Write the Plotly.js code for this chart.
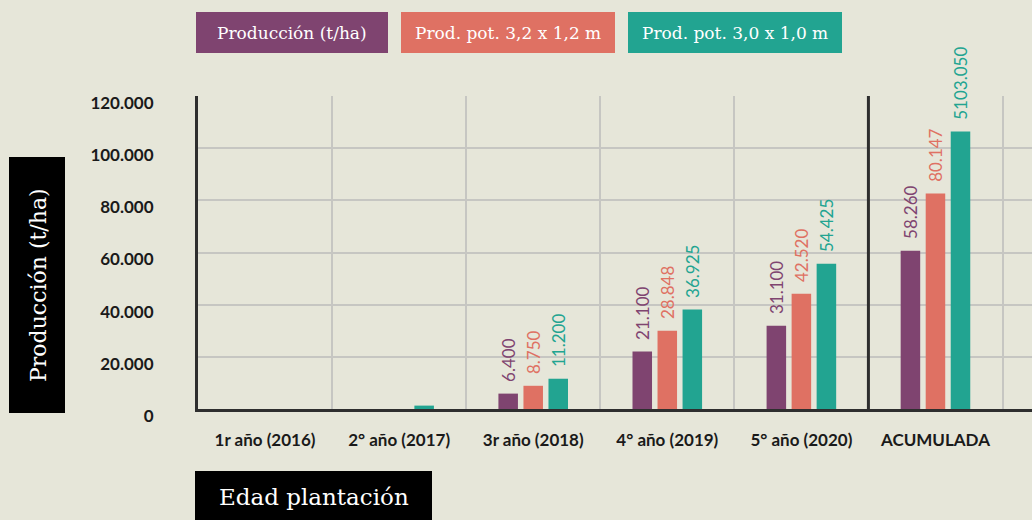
<!DOCTYPE html>
<html>
<head>
<meta charset="utf-8">
<script src="https://cdn.plot.ly/plotly-3.0.1.min.js"></script>
<style>
html,body{margin:0;padding:0;background:#e6e6d9;}
#chart{width:1032px;height:520px;}
</style>
</head>
<body>
<div id="chart"></div>
<script>
const categories = ['1r año (2016)', '2° año (2017)', '3r año (2018)', '4° año (2019)', '5° año (2020)', 'ACUMULADA'];
const seriesNames = ['Producción (t/ha)', 'Prod. pot. 3,2 x 1,2 m', 'Prod. pot. 3,0 x 1,0 m'];
const seriesColors = ['#7f4470', '#df7163', '#22a491'];
const produccion = [null, null, 5900, 22000, 31900, 60700];
const prodPot32 = [null, null, 8900, 30000, 44200, 82600];
const prodPot30 = [null, 1300, 11600, 38100, 55700, 106400];
const produccionLabels = ['', '', '6.400', '21.100', '31.100', '58.260'];
const prodPot32Labels = ['', '', '8.750', '28.848', '42.520', '80.147'];
const prodPot30Labels = ['', '', '11.200', '36.925', '54.425', '5103.050'];
const yTicks = [0, 20000, 40000, 60000, 80000, 100000, 120000];
const yAxisTitle = 'Producción (t/ha)';
const xAxisTitle = 'Edad plantación';

const W = 1032, H = 520;
const L = 198, T = 96, B = 409, R = 1032;
const px = x => (x - L) / (R - L);
const py = y => (B - y) / (B - T);

const series = [produccion, prodPot32, prodPot30];
const labels = [produccionLabels, prodPot32Labels, prodPot30Labels];
const traces = series.map((vals, i) => ({
  type: 'bar',
  x: categories,
  y: vals,
  name: seriesNames[i],
  marker: {color: seriesColors[i]},
  text: labels[i].map(t => t ? '\u00A0\u00A0' + t : ''),
  textposition: 'outside',
  textangle: -90,
  constraintext: 'none',
  cliponaxis: false,
  textfont: {family: 'Lato', size: 17, color: seriesColors[i]},
  hoverinfo: 'none',
  showlegend: false
}));

const legendBoxes = [[196, 388], [401, 615], [628, 842]];
const shapes = [];
const annotations = [];
legendBoxes.forEach((b, i) => {
  shapes.push({type: 'rect', xref: 'paper', yref: 'paper', x0: px(b[0]), x1: px(b[1]), y0: py(53), y1: py(12),
    fillcolor: seriesColors[i], line: {width: 0}, layer: 'above'});
  annotations.push({xref: 'paper', yref: 'paper', x: px((b[0] + b[1]) / 2), y: py(33), text: seriesNames[i],
    showarrow: false, xanchor: 'center', yanchor: 'middle',
    font: {family: 'DejaVu Serif', size: 17, color: '#ffffff'}});
});
// y axis title box
shapes.push({type: 'rect', xref: 'paper', yref: 'paper', x0: px(9), x1: px(65), y0: py(413), y1: py(157),
  fillcolor: '#000000', line: {width: 0}, layer: 'above'});
annotations.push({xref: 'paper', yref: 'paper', x: px(38), y: py(285), text: yAxisTitle, textangle: -90,
  showarrow: false, xanchor: 'center', yanchor: 'middle',
  font: {family: 'DejaVu Serif', size: 22, color: '#ffffff'}});
// x axis title box
shapes.push({type: 'rect', xref: 'paper', yref: 'paper', x0: px(195), x1: px(432), y0: py(521), y1: py(471),
  fillcolor: '#000000', line: {width: 0}, layer: 'above'});
annotations.push({xref: 'paper', yref: 'paper', x: px(314), y: py(497), text: xAxisTitle,
  showarrow: false, xanchor: 'center', yanchor: 'middle',
  font: {family: 'DejaVu Serif', size: 23, color: '#ffffff'}});
// dark separator before cumulative category
shapes.push({type: 'line', xref: 'x', yref: 'paper', x0: 4.5, x1: 4.5, y0: 0, y1: 1,
  line: {color: '#2e2e2e', width: 3}, layer: 'above'});

const layout = {
  width: W, height: H,
  margin: {l: L, r: W - R, t: T, b: H - B, pad: 0},
  paper_bgcolor: '#e6e6d9',
  plot_bgcolor: '#e6e6d9',
  separators: ',.',
  barmode: 'group',
  bargap: 0.44,
  bargroupgap: 0.22,
  font: {family: 'Lato', color: '#1a1a1a'},
  xaxis: {
    type: 'category',
    range: [-0.5, 5.72],
    tickson: 'boundaries',
    showgrid: true,
    gridcolor: '#c6c6c2',
    gridwidth: 2,
    showline: true,
    linecolor: '#2e2e2e',
    linewidth: 3,
    ticks: '',
    ticklabelstandoff: 14,
    tickfont: {family: 'Lato', size: 17, color: '#1a1a1a', weight: 'bold'},
    fixedrange: true
  },
  yaxis: {
    range: [0, 120000],
    tickvals: yTicks,
    tickformat: ',d',
    showgrid: true,
    gridcolor: '#c6c6c2',
    gridwidth: 2,
    zeroline: false,
    showline: true,
    linecolor: '#2e2e2e',
    linewidth: 3,
    ticks: '',
    ticklabelstandoff: 38,
    ticklabelshift: 7,
    tickfont: {family: 'Lato', size: 17, color: '#1a1a1a', weight: 'bold'},
    fixedrange: true
  },
  shapes: shapes,
  annotations: annotations
};

Plotly.newPlot('chart', traces, layout, {displayModeBar: false, staticPlot: true});
</script>
</body>
</html>
